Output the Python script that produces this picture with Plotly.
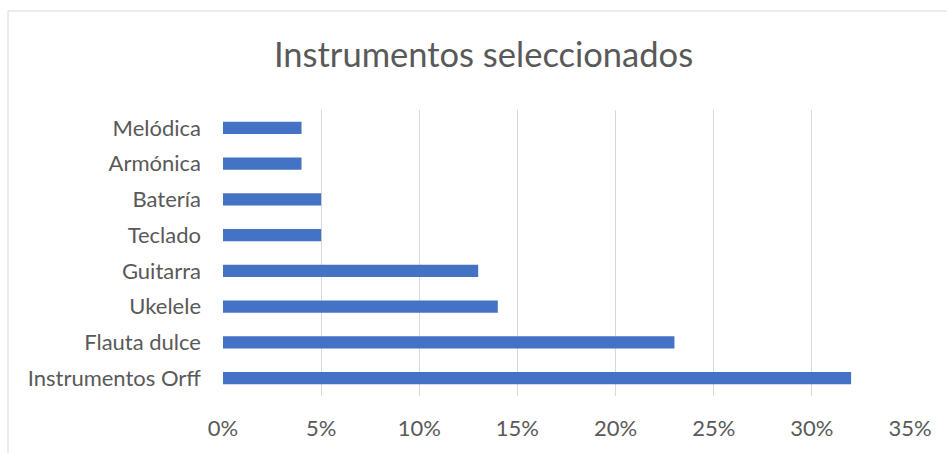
import plotly.graph_objects as go

categories = ["Instrumentos Orff", "Flauta dulce", "Ukelele", "Guitarra",
              "Teclado", "Batería", "Armónica", "Melódica"]
values = [0.32, 0.23, 0.14, 0.13, 0.05, 0.05, 0.04, 0.04]
tick_vals = [0, 0.05, 0.10, 0.15, 0.20, 0.25, 0.30, 0.35]
tick_text = ["0%", "5%", "10%", "15%", "20%", "25%", "30%", "35%"]

FONT = "Lato"
GREY = "#595959"

fig = go.Figure(go.Bar(
    y=categories, x=values, orientation="h",
    marker=dict(color="#4472C4", line=dict(width=0)),
    width=0.336,
))

fig.update_layout(
    width=947, height=453,
    margin=dict(l=223, r=37, t=110, b=57),
    paper_bgcolor="white", plot_bgcolor="white",
    showlegend=False,
    title=dict(text="Instrumentos seleccionados", x=483.5 / 947, xref="container",
               xanchor="center",
               y=(453 - 55) / 453, yanchor="middle",
               font=dict(family=FONT, size=34.5, color=GREY)),
    font=dict(family=FONT, color=GREY),
    xaxis=dict(range=[0, 0.35], tickvals=tick_vals, ticktext=tick_text,
               showgrid=True, gridcolor="#d9d9d9", gridwidth=1,
               zeroline=False, showline=False, automargin=False,
               ticks="", ticklabelstandoff=17,
               tickfont=dict(family=FONT, size=22, color=GREY)),
    yaxis=dict(showgrid=False, zeroline=False, showline=False, automargin=False,
               ticks="", ticklabelstandoff=21,
               tickfont=dict(family=FONT, size=22, color=GREY)),
    shapes=[dict(type="rect", xref="paper", yref="paper",
                 x0=(8 - 223) / 687, x1=1.2, y0=-0.5, y1=(396 - 11) / 286,
                 line=dict(color="#d9d9d9", width=1), fillcolor="rgba(0,0,0,0)",
                 layer="below")],
)

fig.write_html("out.html", config={"displayModeBar": False},
               post_script="document.body.style.margin='0';document.body.style.overflow='hidden';")
